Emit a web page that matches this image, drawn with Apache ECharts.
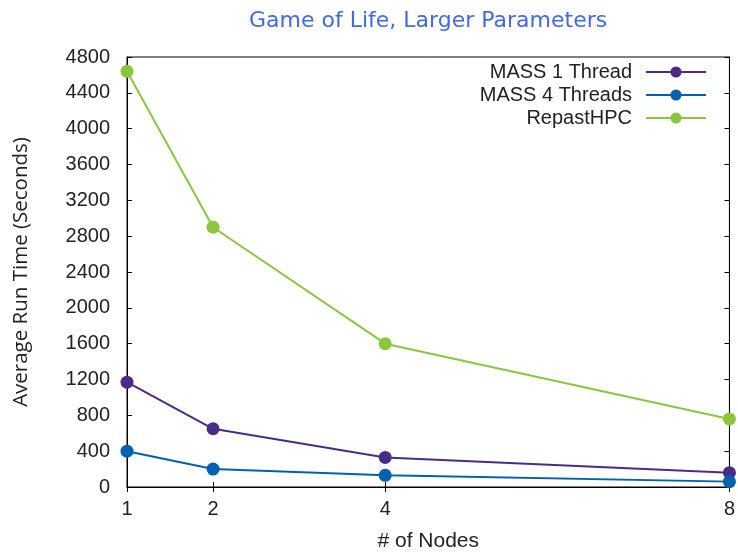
<!DOCTYPE html>
<html><head><meta charset="utf-8">
<script src="https://cdn.jsdelivr.net/npm/echarts@6/dist/echarts.min.js"></script>
<style>html,body{margin:0;padding:0;background:#fff}#c{width:738px;height:557px}</style>
</head><body><div id="c"></div>
<script>
const nodes = [1, 2, 4, 8];
const mass1 = [1170, 650, 330, 160];
const mass4 = [400, 200, 130, 60];
const repast = [4640, 2900, 1600, 760];
const xTicks = [1, 2, 4, 8];
const seriesNames = ['MASS 1 Thread', 'MASS 4 Threads', 'RepastHPC'];
const colors = ['#4b2b89', '#0061b0', '#8cc63e'];

const font = 'Liberation Sans, Arial, sans-serif';
const chart = echarts.init(document.getElementById('c'));
const mk = (name, vals, col) => ({
  name, type: 'line', data: nodes.map((n, i) => [n, vals[i]]),
  symbol: 'circle', symbolSize: 13, color: col,
  lineStyle: { width: 2, color: col }, itemStyle: { color: col },
  clip: false, z: 3
});
chart.setOption({
  animation: false,
  title: { text: 'Game of Life, Larger Parameters', left: 244, top: 5,
    textStyle: { color: '#4169e1', fontSize: 22, fontWeight: 'normal', fontFamily: 'DejaVu Sans' } },
  grid: { left: 127, right: 7, top: 57, bottom: 62, show: true, borderColor: '#000', borderWidth: 1 },
  legend: { orient: 'vertical', right: 26, top: 57, align: 'right', itemWidth: 60, itemHeight: 14, itemGap: 3,
    textStyle: { fontSize: 20, fontFamily: font, color: '#222', padding: [0, 9, 0, 0] },
    data: seriesNames },
  xAxis: [{
    type: 'value', min: 1, max: 8, position: 'bottom',
    name: '# of Nodes', nameLocation: 'middle', nameGap: 44,
    nameTextStyle: { fontSize: 21, fontFamily: font, color: '#222' },
    axisLine: { show: true, lineStyle: { color: '#000', width: 1 } },
    axisTick: { show: true, inside: true, length: 5, customValues: xTicks, lineStyle: { color: '#000' } },
    axisLabel: { customValues: xTicks, fontSize: 20, fontFamily: font, color: '#222', margin: 12 },
    splitLine: { show: false }
  }, {
    type: 'value', min: 1, max: 8, position: 'top',
    axisLine: { show: true, lineStyle: { color: '#000' } },
    axisTick: { show: true, inside: true, length: 5, customValues: xTicks, lineStyle: { color: '#000' } },
    axisLabel: { show: false }, splitLine: { show: false }
  }],
  yAxis: [{
    type: 'value', min: 0, max: 4800, interval: 400, position: 'left',
    name: 'Average Run Time (Seconds)', nameLocation: 'middle', nameGap: 95,
    nameTextStyle: { fontSize: 20.5, fontFamily: 'Open Sans', color: '#222' },
    axisLine: { show: true, lineStyle: { color: '#000' } },
    axisTick: { show: true, inside: true, length: 5, lineStyle: { color: '#000' } },
    axisLabel: { fontSize: 20, fontFamily: font, color: '#222', margin: 17, formatter: v => String(v) },
    splitLine: { show: false }
  }, {
    type: 'value', min: 0, max: 4800, interval: 400, position: 'right',
    axisLine: { show: true, lineStyle: { color: '#000' } },
    axisTick: { show: true, inside: true, length: 5, lineStyle: { color: '#000' } },
    axisLabel: { show: false }, splitLine: { show: false }
  }],
  series: [mk(seriesNames[0], mass1, colors[0]), mk(seriesNames[1], mass4, colors[1]), mk(seriesNames[2], repast, colors[2])]
});
</script></body></html>
